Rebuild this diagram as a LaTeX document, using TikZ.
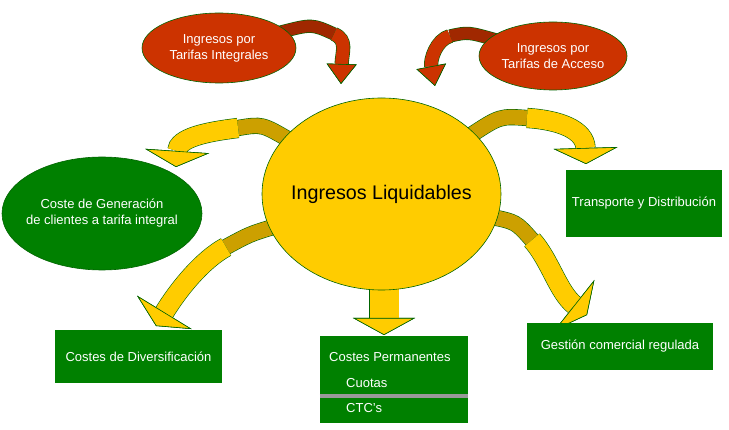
\documentclass[tikz,border=0pt]{standalone}
\usepackage{fontspec}
\setmainfont{Liberation Sans}
\usetikzlibrary{shapes.geometric,arrows.meta,backgrounds}

\definecolor{rim}{RGB}{0,100,0}
\definecolor{sun}{RGB}{255,204,0}
\definecolor{sundark}{RGB}{204,160,0}
\definecolor{brick}{RGB}{204,51,0}
\definecolor{brickdark}{RGB}{160,40,0}
\definecolor{leaf}{RGB}{0,128,0}
\definecolor{divgray}{RGB}{153,153,153}

% band with a thin rim: width, colour, end style, path
\newcommand{\band}[4]{%
  \draw[rim, line width=#1+1.2pt, #3=rim] #4;
  \draw[#2, line width=#1, #3=#2] #4;
}

\begin{document}
\begin{tikzpicture}[x=1pt, y=-1pt,
    bigdisc/.style={ellipse, draw=rim, line width=0.6pt, fill=sun, inner sep=0pt,
      minimum width=239pt, minimum height=192pt},
    bigtext/.style={text=black, font=\fontsize{19.7}{24}\selectfont},
    redblob/.style={ellipse, draw=rim, line width=0.6pt, fill=brick, inner sep=0pt},
    greenblob/.style={ellipse, draw=rim, line width=0.6pt, fill=leaf, inner sep=0pt},
    blobtext/.style={text=white, align=center, font=\fontsize{13}{16}\selectfont},
    greenbox/.style={rectangle, fill=leaf, text=white, inner sep=0pt,
      font=\fontsize{13}{16}\selectfont},
    boxtext/.style={anchor=west, text=white, inner sep=0pt, font=\fontsize{13}{16}\selectfont},
    divider/.style={divgray, line width=4pt},
    fold/.style={shorten <=-6pt},
    rtip/.style={-{Triangle[width=30pt,length=20pt,line width=0.6pt,fill=#1,color=rim]}},
    ytip/.style={-{Triangle[width=64pt,length=16pt,line width=0.6pt,fill=#1,color=rim]}},
    dtip/.style={shorten <=-8pt, -{Triangle[width=62pt,length=17pt,line width=0.6pt,fill=#1,color=rim]}}]
  \useasboundingbox (0,0) rectangle (729,430);

  \node (ti) [redblob, minimum width=154pt, minimum height=70pt,
    label={[blobtext]center:Ingresos por\\Tarifas Integrales}] at (219,48) {};
  \node (ac) [redblob, minimum width=148pt, minimum height=68pt,
    label={[blobtext]center:Ingresos por\\Tarifas de Acceso}] at (553,56) {};
  \node (liq) [bigdisc, label={[bigtext]center:Ingresos Liquidables}] at (381.5,194) {};
  \node (cg) [greenblob, minimum width=200pt, minimum height=113pt,
    label={[blobtext]center:Coste de Generación\\de clientes a tarifa integral}] at (102,213.5) {};
  \node (td) [greenbox, minimum width=156pt, minimum height=67pt] at (644,203.5) {Transporte y Distribución};
  \node (dv) [greenbox, minimum width=167pt, minimum height=53pt] at (138.5,356.5) {Costes de Diversificación};
  \node (gc) [greenbox, minimum width=186pt, minimum height=47pt] at (620,346.5) {Gestión comercial regulada};
  \node (cp) [greenbox, minimum width=148pt, minimum height=87pt] at (394,379.5) {};
  \node (cpHead) [boxtext] at (329,357) {Costes Permanentes};
  \node (cuo) [boxtext] at ([xshift=17pt,yshift=-26pt]cpHead.west) {Cuotas};
  \node (ctc) [boxtext] at ([yshift=-25pt]cuo.west) {CTC’s};
  \draw[divider] (cp.west |- 0,396) -- (cp.east |- 0,396);

  % folds and tips of the bands
  \coordinate (tiFold) at (334,34);
  \coordinate (tiTip) at (341,84);
  \coordinate (acFold) at (450,36);
  \coordinate (acTip) at (435,86);
  \coordinate (cgFold) at (238,128);
  \coordinate (cgTip) at (176,167);
  \coordinate (dvFold) at (226,247);
  \coordinate (dvTip) at (156,326);
  \coordinate (tdFold) at (527,118);
  \coordinate (tdTip) at (586,164);
  \coordinate (gcFold) at (532,240);
  \coordinate (gcTip) at (587,315);
  \coordinate (cpTip) at (384,335);

  \begin{scope}[on background layer]
    % into the disc
    \band{12pt}{brickdark}{fold}{(ti) .. controls (312,24) .. (tiFold)}
    \band{13pt}{brick}{rtip}{(tiFold) .. controls (348,40) and (342,52) .. (tiTip)}
    \band{12pt}{brickdark}{fold}{(ac) .. controls (468,32) .. (acFold)}
    \band{13pt}{brick}{rtip}{(acFold) .. controls (436,40) and (430,60) .. (acTip)}
    % out of the disc
    \band{15pt}{sundark}{fold}{(liq) .. controls (262,124) .. (cgFold)}
    \band{19pt}{sun}{ytip}{(cgFold) .. controls (205,132) and (178,138) .. (cgTip)}
    \band{15pt}{sundark}{fold}{(liq) .. controls (250,234) .. (dvFold)}
    \band{19pt}{sun}{ytip}{(dvFold) .. controls (202,260) and (178,290) .. (dvTip)}
    \band{15pt}{sundark}{fold}{(liq) .. controls (500,116) .. (tdFold)}
    \band{19pt}{sun}{ytip}{(tdFold) .. controls (560,120) and (585,130) .. (tdTip)}
    \band{15pt}{sundark}{fold}{(liq) .. controls (516,222) .. (gcFold)}
    \band{19pt}{sun}{ytip}{(gcFold) .. controls (550,260) and (558,292) .. (gcTip)}
    \band{29pt}{sun}{dtip}{(liq.south -| cpTip) -- (cpTip)}
  \end{scope}
\end{tikzpicture}
\end{document}
